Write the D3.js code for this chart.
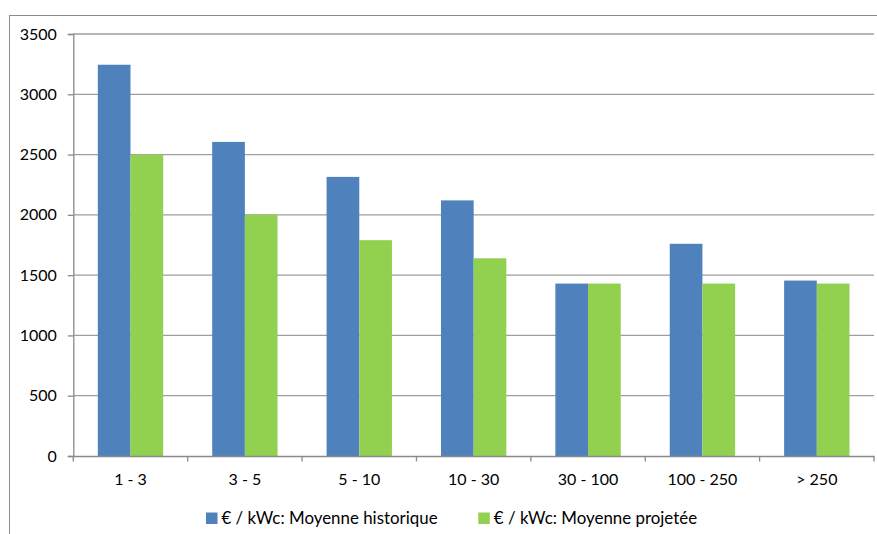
<!DOCTYPE html>
<html>
<head>
<meta charset="utf-8">
<script src="https://cdn.jsdelivr.net/npm/d3@7"></script>
<style>
  html, body { margin: 0; padding: 0; background: #fff; }
  svg { display: block; }
  text { font-family: Lato, "Liberation Sans", sans-serif; fill: #000; }
</style>
</head>
<body>
<svg id="chart" width="877" height="534"></svg>
<script>
// Installation size classes (kWc)
const categories = ["1 - 3", "3 - 5", "5 - 10", "10 - 30", "30 - 100", "100 - 250", "> 250"];
// € / kWc averages
const historique = [3245, 2605, 2315, 2120, 1430, 1760, 1455];
const projetee   = [2500, 2000, 1790, 1640, 1430, 1430, 1430];
const seriesNames = ["€ / kWc: Moyenne historique", "€ / kWc: Moyenne projetée"];
const seriesColors = ["#4F81BD", "#92D050"];
const yTicks = [0, 500, 1000, 1500, 2000, 2500, 3000, 3500];

const svg = d3.select("#chart");
const W = 877, H = 534;
const margin = { left: 73.3, right: 877 - 874, top: 34, bottom: 534 - 456 };
const axisFont = 16;
const legendFont = 16.9;

// chart-area frame
svg.append("rect")
  .attr("x", 9.5).attr("y", 15.5)
  .attr("width", 1000).attr("height", 1000)
  .attr("fill", "none").attr("stroke", "#8c8c8c").attr("stroke-width", 1);

const x = d3.scaleBand()
  .domain(categories)
  .range([margin.left, W - margin.right])
  .paddingInner(0).paddingOuter(0);

const y = d3.scaleLinear()
  .domain([0, 3500])
  .range([H - margin.bottom, margin.top]);

// gridlines
svg.append("g")
  .selectAll("line")
  .data(yTicks.filter(d => d > 0))
  .join("line")
  .attr("x1", margin.left).attr("x2", W - margin.right)
  .attr("y1", d => y(d)).attr("y2", d => y(d))
  .attr("stroke", "#9e9e9e").attr("stroke-width", 1.3);

// bars: gap width 150% of a bar
const bw = x.bandwidth() / 3.5;
const series = [historique, projetee];
series.forEach((vals, si) => {
  svg.append("g")
    .selectAll("rect")
    .data(categories.map((c, i) => ({ c, v: vals[i] })))
    .join("rect")
    .attr("x", d => x(d.c) + bw * 0.75 + si * bw)
    .attr("y", d => y(d.v))
    .attr("width", bw)
    .attr("height", d => y(0) - y(d.v))
    .attr("fill", seriesColors[si]);
});

// y axis
const yAxis = d3.axisLeft(y).tickValues(yTicks).tickFormat(d3.format("d"))
  .tickSize(5.5).tickPadding(11);
const gy = svg.append("g")
  .attr("transform", `translate(${margin.left},0)`)
  .call(yAxis);
gy.select(".domain").attr("stroke", "#8a8a8a").attr("stroke-width", 1.3);
gy.selectAll(".tick line").attr("stroke", "#8a8a8a").attr("stroke-width", 1.3);
gy.selectAll(".tick text")
  .attr("font-family", "Lato, 'Liberation Sans', sans-serif")
  .attr("font-size", axisFont).attr("fill", "#000");

// x axis: ticks at category boundaries
const xAxis = d3.axisBottom(x).tickSize(0).tickPadding(18);
const gx = svg.append("g")
  .attr("transform", `translate(0,${y(0)})`)
  .call(xAxis);
gx.select(".domain").attr("stroke", "#8a8a8a").attr("stroke-width", 1.3);
gx.selectAll(".tick text")
  .attr("font-family", "Lato, 'Liberation Sans', sans-serif")
  .attr("font-size", axisFont).attr("fill", "#000");
svg.append("g")
  .selectAll("line")
  .data(categories.map(c => x(c)).concat([x(categories[categories.length - 1]) + x.bandwidth()]))
  .join("line")
  .attr("x1", d => d).attr("x2", d => d)
  .attr("y1", y(0)).attr("y2", y(0) + 5.5)
  .attr("stroke", "#8a8a8a").attr("stroke-width", 1.3);

// legend
const legendX = [206, 478.3];
const legend = svg.append("g");
seriesNames.forEach((name, i) => {
  const g = legend.append("g").attr("transform", `translate(${legendX[i]},512.5)`);
  g.append("rect").attr("x", 0).attr("y", 0).attr("width", 11.5).attr("height", 11.5)
    .attr("fill", seriesColors[i]);
  g.append("text").attr("x", 15.5).attr("y", 5.8).attr("dy", "0.36em")
    .attr("font-size", legendFont).text(name);
});
</script>
</body>
</html>
